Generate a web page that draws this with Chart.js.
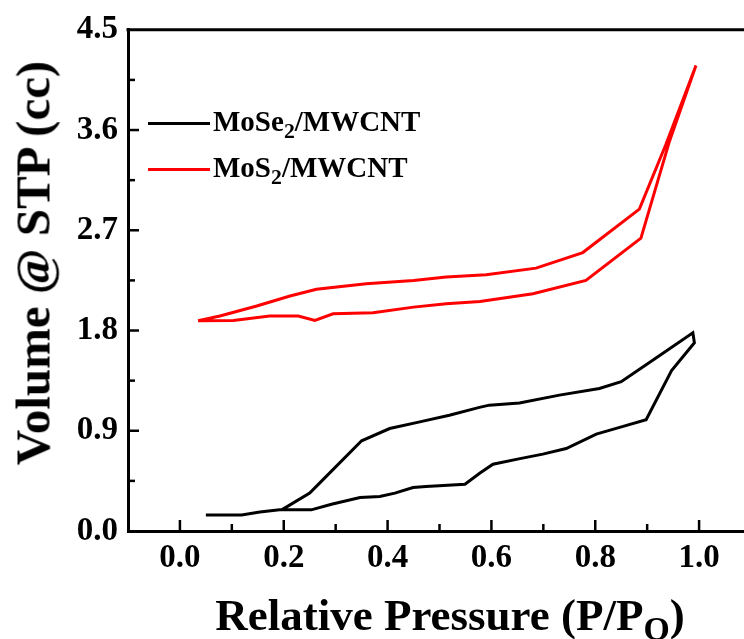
<!DOCTYPE html>
<html><head><meta charset="utf-8">
<script src="https://cdn.jsdelivr.net/npm/chart.js@4.4.1/dist/chart.umd.min.js"></script>
<style>
html,body{margin:0;padding:0;background:#fff;overflow:hidden;width:744px;height:639px;}
#c{position:absolute;left:0;top:0;}
.t{position:absolute;font-family:"Liberation Serif","Times New Roman",serif;font-weight:bold;color:#000;white-space:nowrap;}
sub{font-size:75%;vertical-align:baseline;position:relative;top:0.3em;}
.lg{position:absolute;height:3px;width:62px;}
</style></head>
<body>
<canvas id="c" width="770" height="639"></canvas>
<div class="t" id="ytitle" style="font-size:49px;left:33px;top:263px;transform:translate(-50%,-50%) rotate(-90deg);">Volume @ STP (cc)</div>
<div class="t" id="xtitle" style="font-size:45px;left:450px;top:615px;transform:translate(-50%,-50%);">Relative Pressure (P/P<sub>O</sub>)</div>
<div class="lg" style="left:148px;top:122px;background:#000;"></div>
<div class="t" style="font-size:29px;left:213px;top:105px;">MoSe<sub>2</sub>/MWCNT</div>
<div class="lg" style="left:148px;top:168px;background:#ff0000;"></div>
<div class="t" style="font-size:29px;left:213px;top:151px;">MoS<sub>2</sub>/MWCNT</div>
<script>
// MoSe2/MWCNT isotherm (adsorption then desorption)
const mose2X = [0.05,0.119,0.154,0.192,0.253,0.292,0.347,0.385,0.414,0.449,0.474,0.549,0.578,0.603,0.655,0.699,0.744,0.802,0.847,0.898,0.947,0.991,0.988,
                0.91,0.85,0.808,0.731,0.654,0.596,0.577,0.519,0.462,0.404,0.35,0.269,0.25,0.196];
const mose2Y = [0.143,0.143,0.17,0.19,0.19,0.24,0.30,0.31,0.34,0.39,0.40,0.42,0.52,0.60,0.65,0.69,0.74,0.87,0.93,1.00,1.44,1.69,1.78,
                1.53,1.34,1.28,1.22,1.15,1.13,1.11,1.04,0.98,0.92,0.81,0.43,0.34,0.19];
// MoS2/MWCNT isotherm (adsorption then desorption)
const mos2X = [0.035,0.103,0.173,0.228,0.26,0.295,0.372,0.45,0.513,0.578,0.68,0.782,0.888,0.943,0.994,
               0.936,0.885,0.776,0.686,0.59,0.513,0.45,0.359,0.263,0.212,0.148,0.077,0.035];
const mos2Y = [1.887,1.89,1.93,1.93,1.89,1.95,1.96,2.01,2.04,2.06,2.13,2.25,2.63,3.50,4.18,
               3.47,2.89,2.50,2.36,2.30,2.28,2.25,2.22,2.17,2.11,2.02,1.93,1.887];
const xTicks = [0.0,0.2,0.4,0.6,0.8,1.0];
const xMinor = [0.1,0.3,0.5,0.7,0.9,1.1];
const yTicks = [0.0,0.9,1.8,2.7,3.6,4.5];
const yMinor = [0.45,1.35,2.25,3.15,4.05];

const pts = (xs,ys)=>xs.map((x,i)=>({x:x,y:ys[i]}));
const font = {family:'"Liberation Serif","Times New Roman",serif',weight:'bold',size:33};

const tickPlugin = {
  id:'ticks',
  afterDraw(chart){
    const c = chart.ctx, a = chart.chartArea, sx = chart.scales.x, sy = chart.scales.y;
    c.save();
    c.strokeStyle='#000'; c.lineWidth=3; c.lineCap='butt';
    c.beginPath(); c.moveTo(a.left-1.5,a.top); c.lineTo(a.right+2,a.top); c.stroke();
    c.lineWidth=2.5;
    const xt=(v,l)=>{const p=sx.getPixelForValue(v);c.beginPath();c.moveTo(p,a.bottom);c.lineTo(p,a.bottom-l);c.stroke();};
    const yt=(v,l)=>{const p=sy.getPixelForValue(v);c.beginPath();c.moveTo(a.left,p);c.lineTo(a.left+l,p);c.stroke();};
    xTicks.forEach(v=>xt(v,11)); xMinor.forEach(v=>xt(v,7));
    yTicks.slice(1,-1).forEach(v=>yt(v,11)); yMinor.forEach(v=>yt(v,7));
    c.restore();
  }
};

new Chart(document.getElementById('c'),{
  type:'scatter',
  data:{datasets:[
    {label:'MoSe2/MWCNT',data:pts(mose2X,mose2Y),showLine:true,borderColor:'#000',borderWidth:3,pointRadius:0,tension:0,fill:false},
    {label:'MoS2/MWCNT',data:pts(mos2X,mos2Y),showLine:true,borderColor:'#ff0000',borderWidth:3,pointRadius:0,tension:0,fill:false}
  ]},
  options:{
    responsive:false,animation:false,devicePixelRatio:1,
    layout:{padding:{left:0,top:28,right:19,bottom:0}},
    plugins:{legend:{display:false},tooltip:{enabled:false}},
    scales:{
      x:{type:'linear',min:-0.1,max:1.1,
        afterFit:s=>{s.height=108;},
        afterBuildTicks:s=>{s.ticks=xTicks.map(v=>({value:v}));},
        grid:{display:false,drawTicks:false},
        border:{display:true,color:'#000',width:3},
        ticks:{color:'#000',font:font,padding:8,maxRotation:0,callback:v=>v.toFixed(1)}},
      y:{type:'linear',min:0,max:4.5,
        afterFit:s=>{s.width=128;},
        afterBuildTicks:s=>{s.ticks=yTicks.map(v=>({value:v}));},
        grid:{display:false,drawTicks:false},
        border:{display:true,color:'#000',width:3},
        ticks:{color:'#000',font:font,padding:10,callback:v=>v.toFixed(1)}}
    }
  },
  plugins:[tickPlugin]
});
</script>
</body></html>
